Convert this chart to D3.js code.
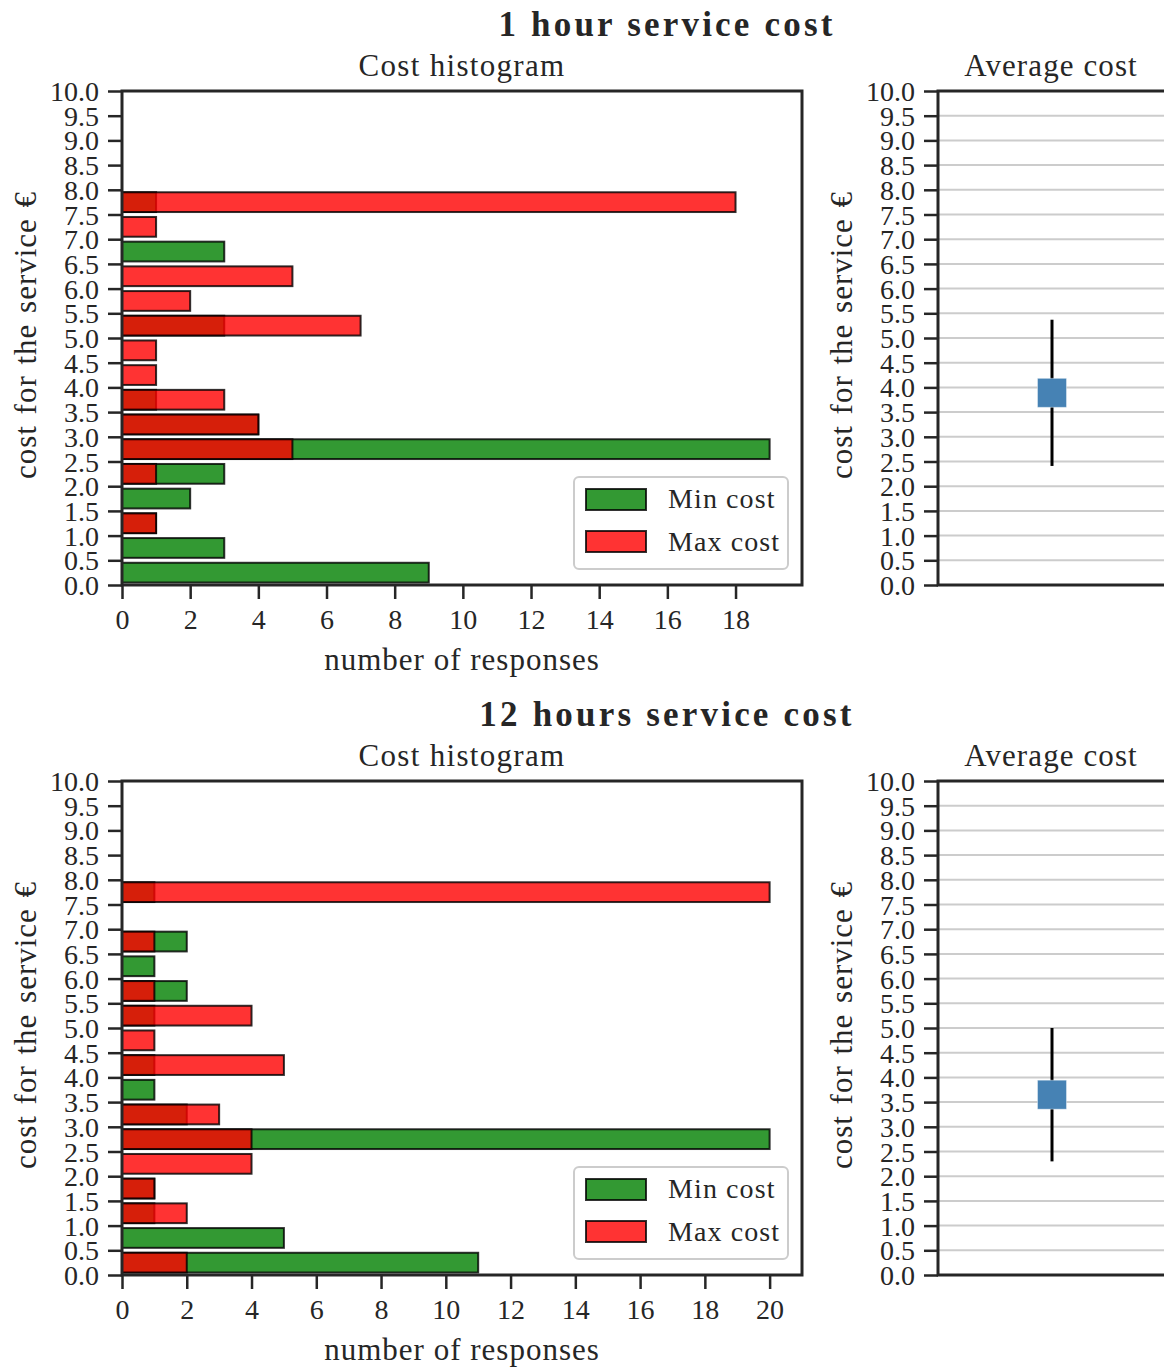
<!DOCTYPE html>
<html><head><meta charset="utf-8">
<script src="https://cdn.jsdelivr.net/npm/d3@7"></script>
<style>
body{margin:0;background:#fff;}
svg{display:block;}
svg text{font-family:"Liberation Serif","DejaVu Serif","Times New Roman",serif;fill:#262626;}
</style></head><body>
<svg id="chart" width="1164" height="1369"></svg>
<script>
// ---------- DATA ----------
// histogram bins: each 0.5 € wide, starting at these values
const binStarts = [0.0,0.5,1.0,1.5,2.0,2.5,3.0,3.5,4.0,4.5,5.0,5.5,6.0,6.5,7.0,7.5,8.0,8.5,9.0,9.5];
const binWidth = 0.5;
const yTickValues = [0,0.5,1,1.5,2,2.5,3,3.5,4,4.5,5,5.5,6,6.5,7,7.5,8,8.5,9,9.5,10];

// 1 hour service
const oneHourMin = [9,3,1,2,3,19,4,1,0,0,3,0,0,3,0,1,0,0,0,0];
const oneHourMax = [0,0,1,0,1,5,4,3,1,1,7,2,5,0,1,18,0,0,0,0];
const oneHourXTicks = [0,2,4,6,8,10,12,14,16,18];
const oneHourMean = 3.89;
const oneHourErr = 1.48;

// 12 hours service
const twelveHourMin = [11,5,1,1,0,20,2,1,1,0,1,2,1,2,0,1,0,0,0,0];
const twelveHourMax = [2,0,2,1,4,4,3,0,5,1,4,1,0,1,0,20,0,0,0,0];
const twelveHourXTicks = [0,2,4,6,8,10,12,14,16,18,20];
const twelveHourMean = 3.65;
const twelveHourErr = 1.35;

const titles = ["1 hour service cost", "12 hours service cost"];
const legendLabels = ["Min cost", "Max cost"];

// ---------- DRAW ----------
const svg = d3.select("#chart");
const INK = "#262626";
const FONT = '"Liberation Serif","DejaVu Serif","Times New Roman",serif';

function panel(off, title, minC, maxC, xTicks, mean, err) {
  const g = svg.append("g").attr("transform", `translate(0,${off})`);
  const top = 91, bottom = 585;
  const hL = 122, hR = 802;
  const aL = 938, aR = 1166;
  const xMax = d3.max(minC.concat(maxC)) * 1.05;

  const y = d3.scaleLinear().domain([0, 10]).range([bottom, top]);
  const x = d3.scaleLinear().domain([0, xMax]).range([hL, hR]);

  const T = (sel) => sel.style("font-family", FONT).attr("fill", INK);

  // suptitle
  T(g.append("text")).attr("x", 667).attr("y", 36).attr("text-anchor", "middle")
    .style("font-size", "35px").style("font-weight", "bold").style("letter-spacing", "3.2px")
    .text(title);
  // subtitles
  T(g.append("text")).attr("x", (hL + hR) / 2).attr("y", 76).attr("text-anchor", "middle")
    .style("font-size", "31px").style("letter-spacing", "1.3px").text("Cost histogram");
  T(g.append("text")).attr("x", 1051).attr("y", 76).attr("text-anchor", "middle")
    .style("font-size", "31px").style("letter-spacing", "1.1px").text("Average cost");

  // ---- histogram bars ----
  const barPad = binWidth * 0.1; // rwidth 0.8
  function bars(counts, color) {
    const data = binStarts.map((b, i) => ({b, c: counts[i]})).filter(d => d.c > 0);
    g.append("g").selectAll("rect").data(data).join("rect")
      .attr("x", x(0))
      .attr("y", d => y(d.b + binWidth - barPad))
      .attr("width", d => x(d.c) - x(0))
      .attr("height", d => y(d.b + barPad) - y(d.b + binWidth - barPad))
      .attr("fill", color).attr("fill-opacity", 0.8)
      .attr("stroke", "#000").attr("stroke-opacity", 0.8).attr("stroke-width", 2);
  }
  bars(minC, "green");
  bars(maxC, "red");

  // y axis hist
  const yAxis = d3.axisLeft(y).tickValues(yTickValues).tickFormat(d3.format(".1f"))
    .tickSize(14).tickPadding(9);
  const ya = g.append("g").attr("transform", `translate(${hL},0)`).call(yAxis);
  // x axis hist
  const xAxis = d3.axisBottom(x).tickValues(xTicks).tickFormat(d3.format("d"))
    .tickSize(14).tickPadding(10);
  const xa = g.append("g").attr("transform", `translate(0,${bottom})`).call(xAxis);
  [ya, xa].forEach(a => {
    a.select(".domain").remove();
    a.selectAll(".tick line").attr("stroke", INK).attr("stroke-width", 2.5);
    a.selectAll(".tick text").style("font-size", "28px").attr("fill", INK)
      .style("font-family", FONT);
  });
  xa.selectAll(".tick text").attr("dy", "0.72em");
  ya.selectAll(".tick text").attr("dy", "0.34em");

  // spines hist
  g.append("rect").attr("x", hL).attr("y", top).attr("width", hR - hL).attr("height", bottom - top)
    .attr("fill", "none").attr("stroke", INK).attr("stroke-width", 3);

  // labels
  T(g.append("text")).attr("x", (hL + hR) / 2).attr("y", 670).attr("text-anchor", "middle")
    .style("font-size", "31px").style("letter-spacing", "1px").text("number of responses");
  const ylab = (cx) => T(g.append("text"))
    .attr("transform", `translate(${cx},${(top + bottom) / 2 - 3}) rotate(-90)`)
    .attr("text-anchor", "middle")
    .style("font-size", "31px").style("letter-spacing", "1px").style("word-spacing", "2px")
    .text("cost for the service €");
  ylab(36);

  // legend
  const lg = g.append("g");
  lg.append("rect").attr("x", 574).attr("y", 477).attr("width", 214).attr("height", 92)
    .attr("rx", 5).attr("fill", "#fff").attr("fill-opacity", 0.8)
    .attr("stroke", "#cccccc").attr("stroke-width", 2);
  const legColors = ["green", "red"];
  legendLabels.forEach((lab, i) => {
    lg.append("rect").attr("x", 586).attr("y", 489 + i * 42).attr("width", 60).attr("height", 21)
      .attr("fill", legColors[i]).attr("fill-opacity", 0.8)
      .attr("stroke", "#000").attr("stroke-opacity", 0.8).attr("stroke-width", 2);
    T(lg.append("text")).attr("x", 668).attr("y", 508 + i * 43)
      .style("font-size", "28px").style("letter-spacing", "1.1px").text(lab);
  });

  // ---- average panel ----
  const ax = d3.scaleLinear().domain([-1, 1]).range([aL, aR]);
  // grid
  g.append("g").selectAll("line").data(yTickValues).join("line")
    .attr("x1", aL).attr("x2", aR).attr("y1", d => y(d)).attr("y2", d => y(d))
    .attr("stroke", "#cccccc").attr("stroke-width", 2);
  // error bar
  g.append("line").attr("x1", ax(0)).attr("x2", ax(0))
    .attr("y1", y(mean - err)).attr("y2", y(mean + err))
    .attr("stroke", "#000").attr("stroke-width", 3);
  // mean marker
  g.append("rect").attr("x", ax(0) - 14.5).attr("y", y(mean) - 14.5)
    .attr("width", 29).attr("height", 29).attr("fill", "steelblue")
    .attr("stroke", "#fff").attr("stroke-opacity", 0.4).attr("stroke-width", 1);
  const ya2 = g.append("g").attr("transform", `translate(${aL},0)`).call(yAxis);
  ya2.select(".domain").remove();
  ya2.selectAll(".tick line").attr("stroke", INK).attr("stroke-width", 2.5);
  ya2.selectAll(".tick text").style("font-size", "28px").attr("fill", INK).attr("dy", "0.34em")
    .style("font-family", FONT);
  g.append("rect").attr("x", aL).attr("y", top).attr("width", aR - aL).attr("height", bottom - top)
    .attr("fill", "none").attr("stroke", INK).attr("stroke-width", 3);
  ylab(852);
}

panel(0, titles[0], oneHourMin, oneHourMax, oneHourXTicks, oneHourMean, oneHourErr);
panel(690, titles[1], twelveHourMin, twelveHourMax, twelveHourXTicks, twelveHourMean, twelveHourErr);
</script>
</body></html>
